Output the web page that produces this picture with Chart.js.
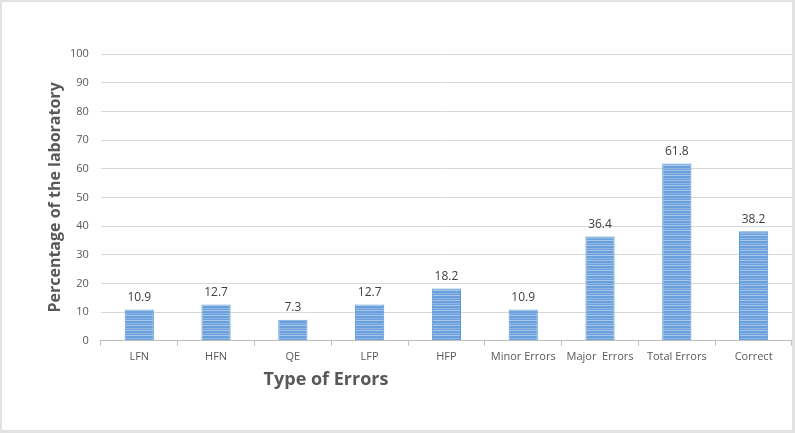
<!DOCTYPE html>
<html>
<head>
<meta charset="utf-8">
<script src="https://cdn.jsdelivr.net/npm/chart.js@4"></script>
<style>
  html, body { margin: 0; padding: 0; background: #fff; }
  #wrap { position: relative; width: 795px; height: 433px; box-sizing: border-box; border: 2px solid #e2e2e2; border-right-width: 3px; border-bottom-width: 3px; }
  canvas { display: block; }
</style>
</head>
<body>
<div id="wrap"><canvas id="errors" width="790" height="428"></canvas></div>
<script>
const CATEGORIES = ['LFN', 'HFN', 'QE', 'LFP', 'HFP', 'Minor Errors', 'Major  Errors', 'Total Errors', 'Correct'];
const PERCENTS = [10.9, 12.7, 7.3, 12.7, 18.2, 10.9, 36.4, 61.8, 38.2];
const Y_TICKS = [0, 10, 20, 30, 40, 50, 60, 70, 80, 90, 100];

const GREY = '#595959';
const FONT = '"Open Sans", "Liberation Sans", sans-serif';

// horizontal striped fill like the excel bars
function stripes() {
  const c = document.createElement('canvas');
  c.width = 30; c.height = 5;
  const g = c.getContext('2d');
  g.fillStyle = '#6a9fdb';
  g.fillRect(0, 0, 30, 5);
  g.fillStyle = '#a8c7ec';
  g.fillRect(0, 3, 30, 1);
  g.fillStyle = '#8db6e6';
  g.fillRect(0, 1, 30, 1);
  return g.createPattern(c, 'repeat');
}

const valueLabels = {
  id: 'valueLabels',
  afterDatasetsDraw(chart) {
    const ctx = chart.ctx;
    const meta = chart.getDatasetMeta(0);
    ctx.save();
    ctx.font = '12px ' + FONT;
    ctx.fillStyle = '#404040';
    ctx.textAlign = 'center';
    ctx.textBaseline = 'bottom';
    meta.data.forEach((bar, i) => {
      ctx.fillText(PERCENTS[i].toFixed(1), bar.x, bar.y - 6);
    });
    ctx.restore();
  }
};

// axis titles are placed by hand, like the original excel layout
const axisTitles = {
  id: 'axisTitles',
  afterDraw(chart) {
    const ctx = chart.ctx;
    const area = chart.chartArea;
    ctx.save();
    ctx.font = 'bold 18px ' + FONT;
    ctx.fillStyle = GREY;
    ctx.textAlign = 'center';
    ctx.textBaseline = 'middle';
    ctx.fillText('Type of Errors', 324, 378);
    ctx.translate(53, (area.top + area.bottom) / 2);
    ctx.rotate(-Math.PI / 2);
    ctx.font = 'bold 16px ' + FONT;
    ctx.fillText('Percentage of the laboratory', 0, 0);
    ctx.restore();
  }
};

new Chart(document.getElementById('errors'), {
  type: 'bar',
  data: {
    labels: CATEGORIES,
    datasets: [{
      label: 'Percentage',
      data: PERCENTS,
      backgroundColor: stripes(),
      borderColor: '#5b9bd5',
      borderWidth: 1,
      barPercentage: 0.38,
      categoryPercentage: 1,
    }]
  },
  options: {
    responsive: false,
    animation: false,
    layout: { padding: { top: 52, right: 0, bottom: 63, left: 56 } },
    plugins: {
      legend: { display: false },
      tooltip: { enabled: false },
    },
    scales: {
      x: {
        grid: { display: true, drawOnChartArea: false, offset: true, color: '#bfbfbf', tickLength: 5 },
        border: { color: '#bfbfbf', width: 1 },
        ticks: { color: GREY, font: { family: FONT, size: 11 }, maxRotation: 0, padding: 4 },
      },
      y: {
        min: 0,
        max: 100,
        afterBuildTicks(axis) { axis.ticks = Y_TICKS.map(v => ({ value: v })); },
        grid: { color: '#d9d9d9', lineWidth: 1, drawTicks: false },
        border: { display: false },
        ticks: { color: GREY, font: { family: FONT, size: 11 }, padding: 12 },
      }
    }
  },
  plugins: [valueLabels, axisTitles]
});
</script>
</body>
</html>
